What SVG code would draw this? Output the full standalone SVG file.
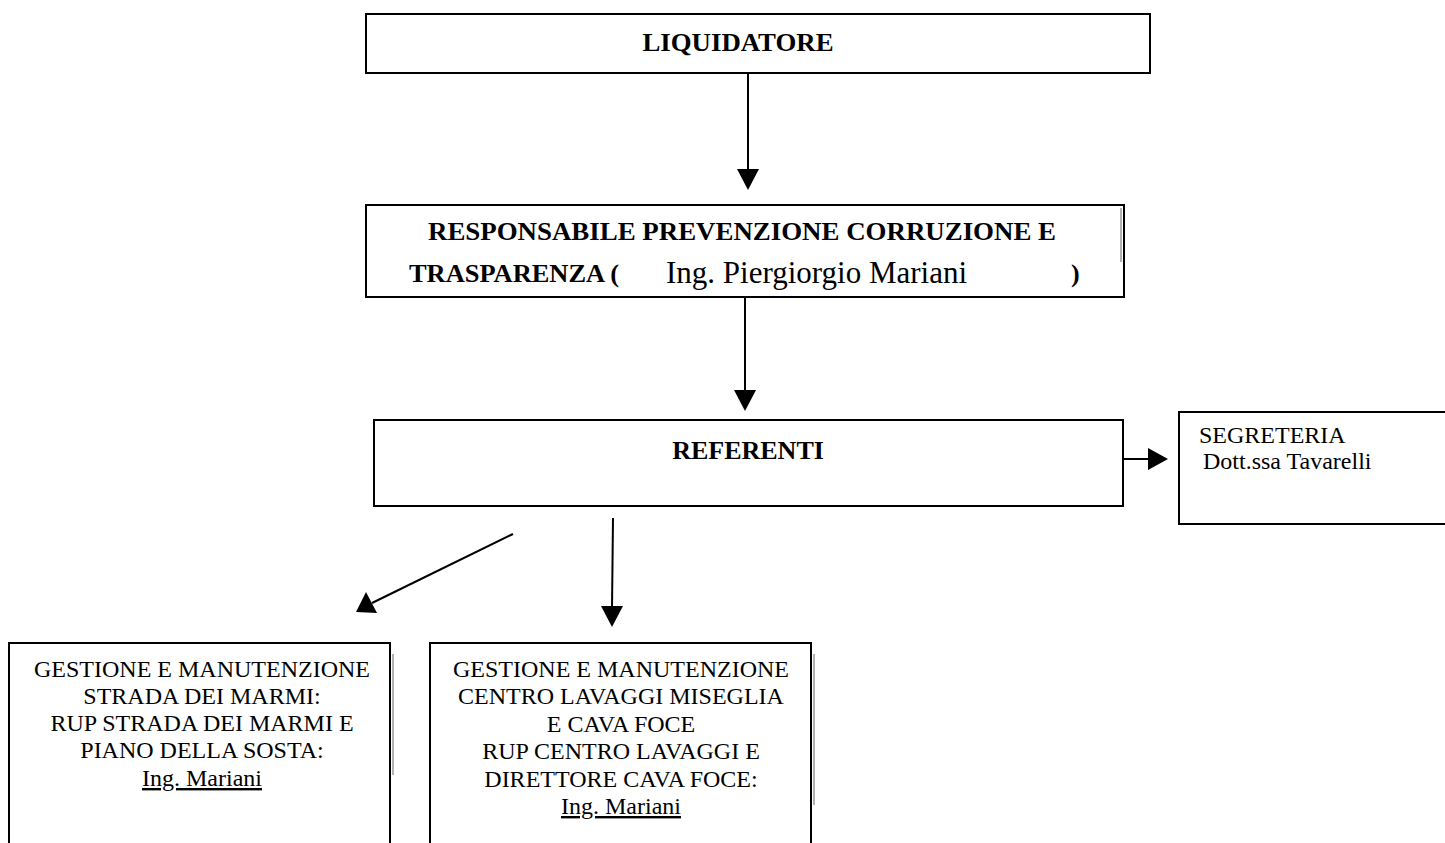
<svg xmlns="http://www.w3.org/2000/svg" width="1445" height="843" viewBox="0 0 1445 843">
<defs>
<style>
.box{fill:#fff;stroke:#000;stroke-width:2}
.b{font-family:"Liberation Serif","Times New Roman",serif;font-weight:bold;font-size:26px;fill:#000}
.r{font-family:"Liberation Serif","Times New Roman",serif;font-size:24px;fill:#000}
.c{text-anchor:middle}
.u{text-decoration:underline}
.ln{stroke:#000;stroke-width:2;fill:none}
.head{fill:#000}
.ghost{stroke:#999;stroke-width:1.5}
</style>
</defs>
<rect width="1445" height="843" fill="#fff"/>

<g id="connectors">
<line class="ln" x1="748" y1="73" x2="748" y2="171"/>
<path class="head" d="M737,169 L759,169 L748,190 Z"/>
<line class="ln" x1="745" y1="297" x2="745" y2="392"/>
<path class="head" d="M734,390 L756,390 L745,411 Z"/>
<line class="ln" x1="1123" y1="459" x2="1150" y2="459"/>
<path class="head" d="M1148,448 L1168,459 L1148,470 Z"/>
<line class="ln" x1="513" y1="534" x2="372" y2="603"/>
<path class="head" d="M356,612 L366,592 L377,613 Z"/>
<line class="ln" x1="613" y1="518" x2="612" y2="608"/>
<path class="head" d="M601,606 L623,606 L612,627 Z"/>
</g>

<g id="liquidatore">
<rect class="box" x="366" y="14" width="784" height="59"/>
<text class="b c" x="738" y="51" textLength="191" lengthAdjust="spacingAndGlyphs">LIQUIDATORE</text>
</g>

<g id="rpct">
<rect class="box" x="366" y="205" width="758" height="92"/>
<line class="ghost" x1="1121" y1="208" x2="1121" y2="262"/>
<text class="b c" x="742" y="240" textLength="628" lengthAdjust="spacingAndGlyphs">RESPONSABILE PREVENZIONE CORRUZIONE E</text>
<text class="b" x="409" y="282" textLength="210" lengthAdjust="spacingAndGlyphs">TRASPARENZA (</text>
<text class="r" x="666" y="283" style="font-size:31px">Ing. Piergiorgio Mariani</text>
<text class="b" x="1071" y="282">)</text>
</g>

<g id="referenti">
<rect class="box" x="374" y="420" width="749" height="86"/>
<text class="b c" x="748" y="459">REFERENTI</text>
</g>

<g id="segreteria">
<rect class="box" x="1179" y="412" width="280" height="112"/>
<text class="r" x="1199" y="443">SEGRETERIA</text>
<text class="r" x="1203" y="469">Dott.ssa Tavarelli</text>
</g>

<g id="strada-marmi">
<rect class="box" x="9" y="643" width="381" height="220"/>
<line class="ghost" x1="393" y1="654" x2="393" y2="775"/>
<text class="r c" x="202" y="677">GESTIONE E MANUTENZIONE</text>
<text class="r c" x="202" y="704">STRADA DEI MARMI:</text>
<text class="r c" x="202" y="731">RUP STRADA DEI MARMI E</text>
<text class="r c" x="202" y="758">PIANO DELLA SOSTA:</text>
<text class="r c u" x="202" y="786">Ing. Mariani</text>
</g>

<g id="centro-lavaggi">
<rect class="box" x="430" y="643" width="381" height="220"/>
<line class="ghost" x1="814" y1="654" x2="814" y2="805"/>
<text class="r c" x="621" y="677">GESTIONE E MANUTENZIONE</text>
<text class="r c" x="621" y="704">CENTRO LAVAGGI MISEGLIA</text>
<text class="r c" x="621" y="732">E CAVA FOCE</text>
<text class="r c" x="621" y="759">RUP CENTRO LAVAGGI E</text>
<text class="r c" x="621" y="787">DIRETTORE CAVA FOCE:</text>
<text class="r c u" x="621" y="814">Ing. Mariani</text>
</g>
</svg>
